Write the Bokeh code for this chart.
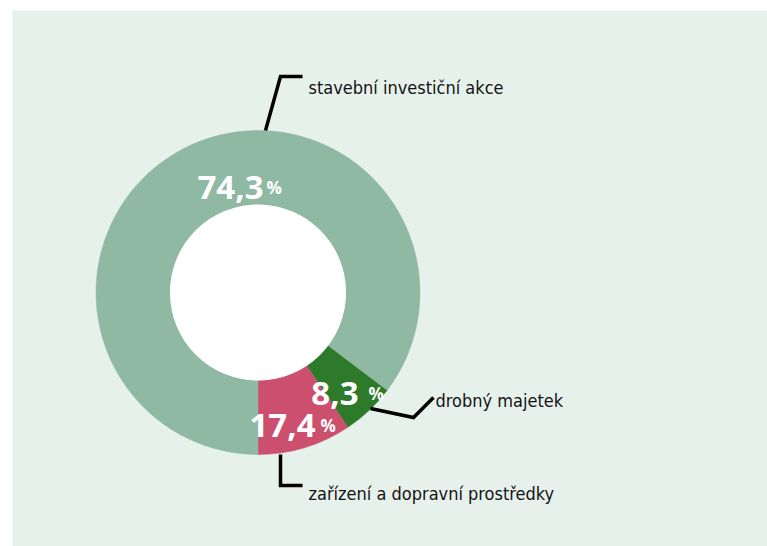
import math
from bokeh.plotting import figure
from bokeh.models import Range1d
from bokeh.core.properties import value
from bokeh.embed import file_html
from bokeh.resources import INLINE

# ---- data (in drawing order, counter-clockwise from the bottom) ----
categories = ["zařízení a dopravní prostředky", "drobný majetek", "stavební investiční akce"]
value_labels = ["17,4", "8,3", "74,3"]
drawn_share = [9.4, 5.3, 85.3]   # share of the ring as drawn in the picture (%)
colors = ["#cc506e", "#2d7a2a", "#8fb9a3"]

# ---- layout (page pixel coords -> data coords) ----
W, H = 767, 546
PL, PT = 12, 10          # white border before the panel
X0, YB = PL, H           # page x of panel left, page y of panel bottom


def dx(px):
    return px - X0


def dy(py):
    return YB - py


CX, CY = dx(257.5), dy(292)
R_OUT, R_IN = 162, 88

p = figure(width=W, height=H, output_backend="svg", toolbar_location=None,
           x_range=Range1d(0, W - PL), y_range=Range1d(0, H - PT),
           min_border_left=PL, min_border_top=PT, min_border_right=0, min_border_bottom=0)
p.axis.visible = False
p.grid.visible = False
p.outline_line_color = None
p.background_fill_color = "#e7f1ec"
p.border_fill_color = "white"

start = -math.pi / 2
starts, ends = [], []
for s in drawn_share:
    a = s / 100 * 2 * math.pi
    starts.append(start)
    ends.append(start + a)
    start += a

p.annular_wedge(x=[CX] * 3, y=[CY] * 3, inner_radius=R_IN, outer_radius=R_OUT,
                start_angle=starts, end_angle=ends, fill_color=colors,
                line_color=colors, line_width=0.5)
p.circle(x=[CX], y=[CY], radius=R_IN, fill_color="white", line_color=None)

# percent labels: (right edge of number, baseline, left of %)
num_pos = [(315, 425, 320), (358, 393, 368), (263, 187, 266)]
for lab, (xr, yb, xp) in zip(value_labels, num_pos):
    p.text(x=[dx(xr)], y=[dy(yb)], text=[lab], text_color="white",
           text_font=value("Open Sans"), text_font_style="bold",
           text_font_size="33px", text_align="right", text_baseline="alphabetic")
    p.text(x=[dx(xp)], y=[dy(yb)], text=["%"], text_color="white",
           text_font=value("Open Sans"), text_font_style="bold",
           text_font_size="17px", text_align="left", text_baseline="alphabetic")

# leader lines (page coords)
leaders = [
    [(280, 454), (280, 485), (302, 485)],
    [(370, 408), (413, 417), (433, 397)],
    [(265, 130), (280, 76), (302, 76)],
]
for pts in leaders:
    p.line(x=[dx(a) for a, b in pts], y=[dy(b) for a, b in pts],
           line_color="black", line_width=3.5, line_join="miter")

cat_pos = [(308, 493), (435, 400), (308, 87)]
for cat, (x, y) in zip(categories, cat_pos):
    p.text(x=[dx(x)], y=[dy(y)], text=[cat], text_color="#141414",
           text_font=value("DejaVu Sans Condensed"), text_font_size="18px",
           text_align="left", text_baseline="alphabetic")

open("out.html", "w").write(file_html(p, INLINE))
